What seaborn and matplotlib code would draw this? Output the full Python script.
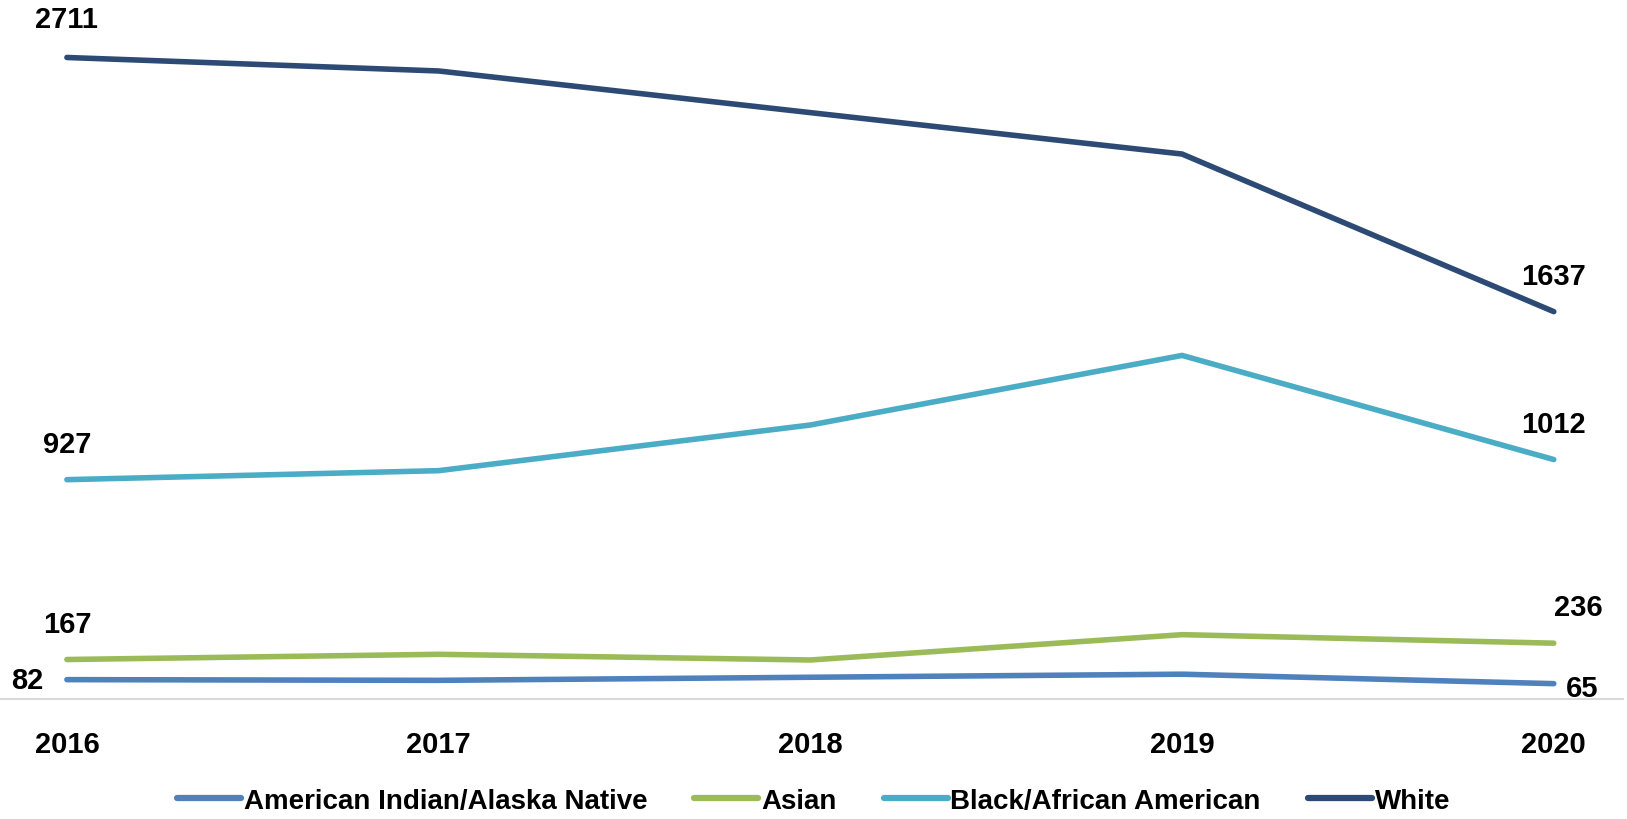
import numpy as np
import pandas as pd
import seaborn as sns
import matplotlib.pyplot as plt

years = [2016, 2017, 2018, 2019, 2020]
aian = [82, 79, 92, 105, 65]
asian = [167, 189, 165, 272, 236]
black = [927, 965, 1158, 1452, 1012]
white = [2711, 2654, 2478, 2303, 1637]
groups = ["American Indian/Alaska Native", "Asian", "Black/African American", "White"]
colors = ["#4F81BD", "#9BBB59", "#4BACC6", "#2C4A74"]

df = pd.DataFrame({
    "Year": years * 4,
    "Count": aian + asian + black + white,
    "Group": [g for g in groups for _ in years],
})

sns.set_style("white")
plt.rcParams["font.family"] = ["Liberation Sans", "DejaVu Sans"]
plt.rcParams["font.weight"] = "bold"
plt.rcParams["text.color"] = "black"
plt.rcParams["xtick.color"] = "black"

fig = plt.figure(figsize=(16.27, 8.2), dpi=100)
ax = fig.add_axes([0.0, 0.1463, 0.9975, 0.83])
sns.lineplot(data=df, x="Year", y="Count", hue="Group", palette=colors,
             linewidth=4, ax=ax, legend=False, solid_capstyle="round")

ax.set_xlim(2015.82, 2020.186)
ax.set_ylim(0, 2876)
ax.set_yticks([])
ax.set_xticks(years)
ax.set_xticklabels([str(y) for y in years], fontsize=21, fontweight="bold")
ax.tick_params(axis="x", length=0, pad=22)
ax.set_xlabel("")
ax.set_ylabel("")
for s in ["top", "right", "left"]:
    ax.spines[s].set_visible(False)
ax.spines["bottom"].set_color("#D9D9D9")
ax.spines["bottom"].set_linewidth(1.5)

# data labels on first and last points
first_off = [(-40, 0), (0, 36), (0, 36), (0, 38)]
last_off = [(28, -4), (25, 36), (0, 36), (0, 36)]
series = [aian, asian, black, white]
for vals, fo, lo in zip(series, first_off, last_off):
    ax.annotate(str(vals[0]), (years[0], vals[0]), xytext=fo,
                textcoords="offset pixels", ha="center", va="center",
                fontsize=21, fontweight="bold")
    ax.annotate(str(vals[-1]), (years[-1], vals[-1]), xytext=lo,
                textcoords="offset pixels", ha="center", va="center",
                fontsize=21, fontweight="bold")

handles = [plt.Line2D([], [], color=c, lw=4.5, solid_capstyle="round") for c in colors]
leg = fig.legend(handles, groups, loc="lower center", bbox_to_anchor=(0.5, -0.024),
                 ncol=4, frameon=False, fontsize=20, handlelength=2.3,
                 handletextpad=0.1, columnspacing=1.7)
for t in leg.get_texts():
    t.set_fontweight("bold")

plt.savefig("out.png", dpi=100)
